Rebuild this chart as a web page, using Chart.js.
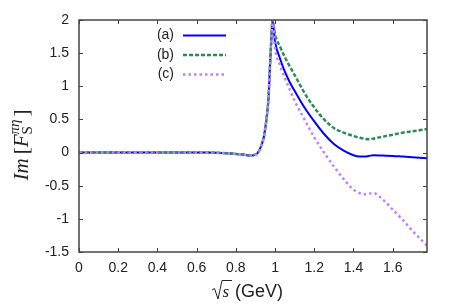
<!DOCTYPE html>
<html>
<head>
<meta charset="utf-8">
<script src="https://cdn.jsdelivr.net/npm/chart.js@4/dist/chart.umd.min.js"></script>
<style>
html,body{margin:0;padding:0;background:#fff;}
#wrap{width:457px;height:304px;position:relative;}
</style>
</head>
<body>
<div id="wrap"><canvas id="c" width="457" height="304"></canvas></div>
<script>
// ---- data ----
const sqrtS = [0, 0.1, 0.2, 0.3, 0.4, 0.5, 0.6, 0.65, 0.7, 0.75, 0.8, 0.85, 0.87, 0.89, 0.91, 0.925, 0.94, 0.95, 0.96, 0.967, 0.974, 0.98, 0.987,
  1.0, 1.025, 1.05, 1.075, 1.1, 1.15, 1.2, 1.25, 1.3, 1.35, 1.4, 1.43, 1.46, 1.48, 1.5, 1.55, 1.6, 1.65, 1.7, 1.775];
const common = [0, 0, 0, 0, 0, 0, 0, 0, -0.003, -0.01, -0.02, -0.035, -0.045, -0.04, -0.01, 0.07, 0.2, 0.37, 0.6, 0.85, 1.3, 1.65, 2.0];
const seriesA = common.concat([1.67, 1.42, 1.22, 1.06, 0.93, 0.68, 0.47, 0.28, 0.13, 0.03, -0.04, -0.06, -0.06, -0.05, -0.04, -0.045, -0.05, -0.06, -0.07, -0.085]);
const seriesB = common.concat([1.78, 1.6, 1.44, 1.3, 1.17, 0.9, 0.68, 0.5, 0.37, 0.3, 0.25, 0.225, 0.205, 0.2, 0.21, 0.24, 0.27, 0.3, 0.32, 0.355]);
const seriesC = common.concat([1.57, 1.32, 1.12, 0.95, 0.78, 0.5, 0.23, 0.0, -0.21, -0.4, -0.56, -0.61, -0.63, -0.62, -0.61, -0.71, -0.86, -1.01, -1.18, -1.40]);
const labels = ['(a)', '(b)', '(c)'];
const xTicks = [0, 0.2, 0.4, 0.6, 0.8, 1, 1.2, 1.4, 1.6];
const yTicks = [-1.5, -1, -0.5, 0, 0.5, 1, 1.5, 2];
const xRange = [0, 1.775];
const yRange = [-1.5, 2];

const pts = ys => sqrtS.map((x, i) => ({x: x, y: ys[i]}));

const FRAME = '#444';
const TEXT = '#222';

const framePlugin = {
  id: 'frame',
  afterDatasetsDraw(chart) {
    const ctx = chart.ctx, a = chart.chartArea;
    const xs = chart.scales.x, ys = chart.scales.y;
    ctx.save();
    ctx.strokeStyle = FRAME;
    ctx.lineWidth = 1;
    const L = 4;
    ctx.beginPath();
    xTicks.forEach(v => {
      const px = Math.round(xs.getPixelForValue(v)) + 0.5;
      ctx.moveTo(px, a.bottom); ctx.lineTo(px, a.bottom - L);
      ctx.moveTo(px, a.top); ctx.lineTo(px, a.top + L);
    });
    yTicks.forEach(v => {
      const py = Math.round(ys.getPixelForValue(v)) + 0.5;
      ctx.moveTo(a.left, py); ctx.lineTo(a.left + L, py);
      ctx.moveTo(a.right, py); ctx.lineTo(a.right - L, py);
    });
    ctx.stroke();
    ctx.lineWidth = 1.5;
    ctx.strokeRect(a.left, a.top, a.right - a.left, a.bottom - a.top);

    // legend
    ctx.font = '14px "Liberation Sans", Arial, sans-serif';
    ctx.textAlign = 'right';
    ctx.textBaseline = 'middle';
    const rows = [35.5, 55, 74.5];
    chart.data.datasets.forEach((ds, i) => {
      ctx.fillStyle = TEXT;
      ctx.fillText(ds.label, 174, rows[i]);
      ctx.save();
      ctx.strokeStyle = ds.borderColor;
      ctx.lineWidth = ds.borderWidth;
      ctx.setLineDash(ds.borderDash || []);
      ctx.beginPath();
      ctx.moveTo(183, rows[i]); ctx.lineTo(226, rows[i]);
      ctx.stroke();
      ctx.restore();
    });

    // x title
    ctx.fillStyle = TEXT;
    ctx.textAlign = 'left';
    ctx.textBaseline = 'alphabetic';
    const base = 297;
    ctx.save();
    ctx.strokeStyle = TEXT;
    ctx.lineWidth = 1;
    ctx.beginPath();
    ctx.moveTo(212, 290); ctx.lineTo(214.5, 288.5); ctx.lineTo(218, 299); ctx.lineTo(222, 280.5); ctx.lineTo(232, 280.5);
    ctx.stroke();
    ctx.restore();
    ctx.font = 'italic 17px "Liberation Serif", "Times New Roman", serif';
    ctx.fillText('s', 222.5, base);
    ctx.font = '18px "Liberation Sans", Arial, sans-serif';
    ctx.fillText('(GeV)', 235, base);

    // y title (rotated)
    ctx.save();
    ctx.translate(28, 145);
    ctx.rotate(-Math.PI / 2);
    const fi = 'italic 21px "Liberation Serif", "Times New Roman", serif';
    const fn = '21px "Liberation Serif", "Times New Roman", serif';
    const fs = '15px "Liberation Serif", "Times New Roman", serif';
    const fsi = 'italic 15px "Liberation Serif", "Times New Roman", serif';
    ctx.font = fi; const wIm = ctx.measureText('Im').width;
    ctx.font = fn; const wB = ctx.measureText('[').width;
    ctx.font = fi; const wF = ctx.measureText('F').width;
    ctx.font = fs; const wS = ctx.measureText('S').width;
    ctx.font = fsi; const wP = ctx.measureText('πη').width;
    ctx.font = fn; const wE = ctx.measureText(']').width;
    const total = wIm + 4 + wB + wF + Math.max(wS, wP) + 3 + wE;
    let x = -total / 2;
    ctx.textAlign = 'left';
    ctx.font = fi; ctx.fillText('Im', x, 0); x += wIm + 4;
    ctx.font = fn; ctx.fillText('[', x, 0); x += wB;
    ctx.font = fi; ctx.fillText('F', x, 0); x += wF;
    ctx.font = fs; ctx.fillText('S', x, 4);
    ctx.font = fsi; ctx.fillText('πη', x, -9);
    x += Math.max(wS, wP) + 3;
    ctx.font = fn; ctx.fillText(']', x, 0);
    ctx.restore();
    ctx.restore();
  }
};

new Chart(document.getElementById('c'), {
  type: 'line',
  data: {
    datasets: [
      {label: labels[0], data: pts(seriesA), borderColor: '#0000ff', borderWidth: 2, pointRadius: 0, cubicInterpolationMode: 'monotone', order: 2, fill: false},
      {label: labels[1], data: pts(seriesB), borderColor: '#2e8b57', borderWidth: 2.5, borderDash: [4, 2], pointRadius: 0, cubicInterpolationMode: 'monotone', order: 1, fill: false},
      {label: labels[2], data: pts(seriesC), borderColor: '#c080ff', borderWidth: 2.5, borderDash: [2.5, 3], pointRadius: 0, cubicInterpolationMode: 'monotone', order: 0, fill: false}
    ]
  },
  options: {
    responsive: false,
    animation: false,
    events: [],
    layout: {padding: {top: 20, right: 30, left: 0, bottom: 0}},
    plugins: {legend: {display: false}, tooltip: {enabled: false}, title: {display: false}},
    scales: {
      x: {
        type: 'linear', min: xRange[0], max: xRange[1],
        grid: {display: false, drawTicks: false},
        border: {display: false},
        afterBuildTicks: s => { s.ticks = xTicks.map(v => ({value: v})); },
        afterFit: s => { s.height = 52; },
        ticks: {autoSkip: false, maxRotation: 0, padding: 8, color: TEXT, font: {family: '"Liberation Sans", Arial, sans-serif', size: 14}, callback: v => String(v)}
      },
      y: {
        type: 'linear', min: yRange[0], max: yRange[1],
        grid: {display: false, drawTicks: false},
        border: {display: false},
        afterBuildTicks: s => { s.ticks = yTicks.map(v => ({value: v})); },
        afterFit: s => { s.width = 79; },
        ticks: {autoSkip: false, padding: 10, color: TEXT, font: {family: '"Liberation Sans", Arial, sans-serif', size: 14}, callback: v => String(v)}
      }
    }
  },
  plugins: [framePlugin]
});
</script>
</body>
</html>
